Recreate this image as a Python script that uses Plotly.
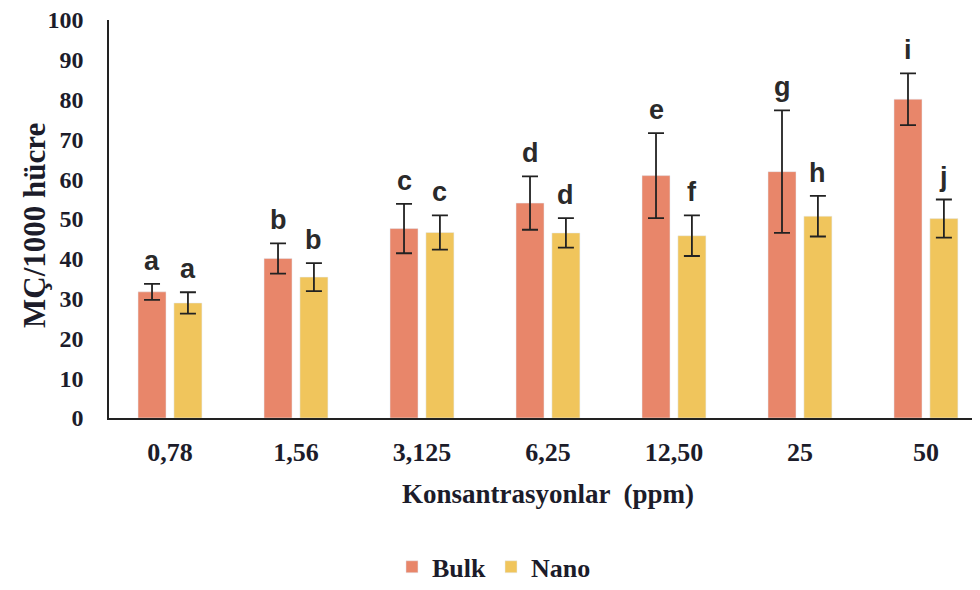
import plotly.graph_objects as go

categories = ["0,78", "1,56", "3,125", "6,25", "12,50", "25", "50"]
bulk_mean = [31.7, 40.1, 47.6, 54.0, 60.9, 61.9, 80.1]
bulk_err = [2.0, 3.8, 6.2, 6.7, 10.7, 15.4, 6.5]
nano_mean = [28.9, 35.4, 46.6, 46.5, 45.8, 50.7, 50.1]
nano_err = [2.7, 3.5, 4.3, 3.7, 5.1, 5.1, 4.8]
bulk_letters = ["a", "b", "c", "d", "e", "g", "i"]
nano_letters = ["a", "b", "c", "d", "f", "h", "j"]
x_title = "Konsantrasyonlar  (ppm)"
y_title = "MÇ/1000 hücre"

BULK_COLOR = "#E8866A"
NANO_COLOR = "#F0C55C"
TEXT = "#1c1c2a"
SERIF = "Liberation Serif, Times New Roman, serif"
SANS = "Liberation Sans, Arial, sans-serif"

fig = go.Figure()
fig.add_trace(go.Bar(
    name="Bulk", x=categories, y=bulk_mean, marker_color=BULK_COLOR,
    error_y=dict(type="data", array=bulk_err, visible=True, color="#222222", thickness=1.8, width=8),
))
fig.add_trace(go.Bar(
    name="Nano", x=categories, y=nano_mean, marker_color=NANO_COLOR,
    error_y=dict(type="data", array=nano_err, visible=True, color="#222222", thickness=1.8, width=8),
))

bargap = 0.43
offset = (1 - bargap) / 4
annotations = []
for i, cat in enumerate(categories):
    for off, m, e, lab in [(-offset, bulk_mean[i], bulk_err[i], bulk_letters[i]),
                           (offset, nano_mean[i], nano_err[i], nano_letters[i])]:
        annotations.append(dict(
            x=i + off, y=m + e, xref="x", yref="y", text=lab,
            showarrow=False, yanchor="bottom", yshift=6,
            font=dict(family=SANS, size=27, color="#2a2a2a", weight="bold"),
        ))

annotations.append(dict(
    x=0.504, y=-0.190, xref="paper", yref="paper", text=x_title, showarrow=False,
    xanchor="center", yanchor="middle",
    font=dict(family=SERIF, size=27, color=TEXT, weight="bold"),
))
annotations.append(dict(
    x=-0.085, y=0.485, xref="paper", yref="paper", text=y_title, showarrow=False,
    xanchor="center", yanchor="middle", textangle=-90,
    font=dict(family=SERIF, size=31, color=TEXT, weight="bold"),
))

fig.update_layout(
    width=980, height=590,
    margin=dict(l=101, r=8, t=12, b=165),
    plot_bgcolor="white", paper_bgcolor="white",
    barmode="group", bargap=bargap, bargroupgap=0.22,
    annotations=annotations,
    showlegend=True,
    legend=dict(orientation="h", x=0.442, xanchor="center", y=-0.374, yanchor="middle",
                font=dict(family=SERIF, size=26, color=TEXT, weight="bold"),
                traceorder="normal", itemwidth=30),
    xaxis=dict(
        type="category", range=[-0.484, 6.429], automargin=False,
        showline=True, linecolor="#222222", linewidth=2,
        ticks="", showgrid=False, ticklabelstandoff=10,
        tickfont=dict(family=SERIF, size=26, color=TEXT, weight="bold"),
    ),
    yaxis=dict(
        range=[0, 100], tickvals=list(range(0, 101, 10)), automargin=False,
        showline=True, linecolor="#222222", linewidth=1.5,
        ticks="", showgrid=False, zeroline=False, ticklabelstandoff=19,
        ticklabeloverflow="allow",
        tickfont=dict(family=SERIF, size=24, color=TEXT, weight="bold"),
    ),
)

fig.write_html("out.html")
